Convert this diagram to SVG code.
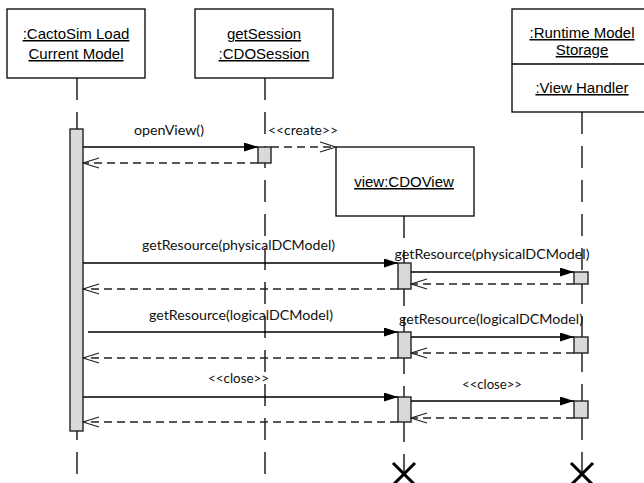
<svg xmlns="http://www.w3.org/2000/svg" width="644" height="483" viewBox="0 0 644 483">
<style>
.box{fill:#fff;stroke:#000;stroke-width:1.3}
.name{font-family:"Liberation Sans",Arial,sans-serif;font-size:15px;text-decoration:underline;text-anchor:middle;fill:#000}
.life{stroke:#000;stroke-width:1.3;fill:none}
.dash{stroke:#000;stroke-width:1.3;stroke-dasharray:22 12;fill:none}
.act{fill:#d9d9d9;stroke:#222;stroke-width:1.4}
.msg{stroke:#000;stroke-width:1.3;fill:none}
.ret{stroke:#222;stroke-width:1.3;stroke-dasharray:8 5;fill:none}
.lbl{font-family:Lato,"Open Sans",sans-serif;font-size:13.5px;text-anchor:middle;fill:#111}
.x{stroke:#000;stroke-width:3;fill:none}
</style>
<defs>
<marker id="fill" markerUnits="userSpaceOnUse" viewBox="0 0 14 9" refX="14" refY="4.5" markerWidth="14" markerHeight="9" orient="auto">
<path d="M0,0 L14,4.5 L0,9 z" fill="#000"/>
</marker>
<marker id="open" markerUnits="userSpaceOnUse" viewBox="-1 -1 18 12" refX="16" refY="5" markerWidth="18" markerHeight="12" orient="auto">
<path d="M0,0 L16,5 L0,10" fill="none" stroke="#222" stroke-width="1.3" stroke-dasharray="none"/>
</marker>
</defs>

<g id="cactosim">
<rect class="box" x="7" y="9" width="138" height="69"/>
<text class="name" x="76" y="39">:CactoSim Load</text>
<text class="name" x="76" y="59">Current Model</text>
<line class="dash" x1="77" y1="78" x2="77" y2="474"/>
<rect class="act" x="70" y="129" width="13" height="302"/>
</g>

<g id="getsession">
<rect class="box" x="195" y="9" width="138" height="69"/>
<text class="name" x="264" y="39">getSession</text>
<text class="name" x="264" y="59">:CDOSession</text>
<line class="dash" x1="265" y1="78" x2="265" y2="474"/>
<rect class="act" x="258" y="147" width="13" height="16"/>
</g>

<g id="cdoview">
<rect class="box" x="336" y="147" width="138" height="69"/>
<text class="name" x="404" y="187">view:CDOView</text>
<line class="dash" x1="404" y1="216" x2="404" y2="474"/>
<rect class="act" x="398" y="263" width="13" height="26"/>
<rect class="act" x="398" y="332" width="13" height="26"/>
<rect class="act" x="398" y="397" width="13" height="25"/>
<path class="x" d="M393,463 L415,485 M415,463 L393,485"/>
</g>

<g id="runtime">
<rect class="box" x="512" y="9" width="140" height="103"/>
<line class="life" x1="512" y1="64" x2="652" y2="64"/>
<text class="name" x="582" y="38">:Runtime Model</text>
<text class="name" x="582" y="55">Storage</text>
<text class="name" x="582" y="93">:View Handler</text>
<line class="dash" x1="582" y1="112" x2="582" y2="474"/>
<rect class="act" x="574" y="272" width="14" height="12"/>
<rect class="act" x="574" y="337" width="14" height="16"/>
<rect class="act" x="574" y="401" width="14" height="17"/>
<path class="x" d="M571,463 L593,485 M593,463 L571,485"/>
</g>

<g id="connectors">
<line class="msg" x1="83" y1="147" x2="258" y2="147" marker-end="url(#fill)"/>
<text class="lbl" x="169" y="135" textLength="70" lengthAdjust="spacingAndGlyphs">openView()</text>
<line class="ret" x1="258" y1="163" x2="83" y2="163" marker-end="url(#open)"/>
<line class="ret" x1="271" y1="147" x2="336" y2="147" marker-end="url(#open)"/>
<text class="lbl" x="303" y="135" textLength="70" lengthAdjust="spacingAndGlyphs">&lt;&lt;create&gt;&gt;</text>

<line class="msg" x1="83" y1="263" x2="398" y2="263" marker-end="url(#fill)"/>
<text class="lbl" x="238.5" y="250" textLength="193" lengthAdjust="spacingAndGlyphs">getResource(physicalDCModel)</text>
<line class="ret" x1="398" y1="289" x2="83" y2="289" marker-end="url(#open)"/>
<line class="msg" x1="411" y1="272" x2="574" y2="272" marker-end="url(#fill)"/>
<text class="lbl" x="492" y="259" textLength="195" lengthAdjust="spacingAndGlyphs">getResource(physicalDCModel)</text>
<line class="ret" x1="574" y1="284" x2="411" y2="284" marker-end="url(#open)"/>

<line class="msg" x1="88" y1="332" x2="398" y2="332" marker-end="url(#fill)"/>
<text class="lbl" x="241" y="320" textLength="184" lengthAdjust="spacingAndGlyphs">getResource(logicalDCModel)</text>
<line class="ret" x1="398" y1="358" x2="83" y2="358" marker-end="url(#open)"/>
<line class="msg" x1="411" y1="337" x2="574" y2="337" marker-end="url(#fill)"/>
<text class="lbl" x="491" y="324" textLength="184" lengthAdjust="spacingAndGlyphs">getResource(logicalDCModel)</text>
<line class="ret" x1="574" y1="353" x2="411" y2="353" marker-end="url(#open)"/>

<line class="msg" x1="83" y1="397" x2="398" y2="397" marker-end="url(#fill)"/>
<text class="lbl" x="238.5" y="383" textLength="61" lengthAdjust="spacingAndGlyphs">&lt;&lt;close&gt;&gt;</text>
<line class="ret" x1="398" y1="422" x2="83" y2="422" marker-end="url(#open)"/>
<line class="msg" x1="411" y1="401" x2="574" y2="401" marker-end="url(#fill)"/>
<text class="lbl" x="492" y="389" textLength="60" lengthAdjust="spacingAndGlyphs">&lt;&lt;close&gt;&gt;</text>
<line class="ret" x1="574" y1="418" x2="411" y2="418" marker-end="url(#open)"/>
</g>
</svg>
